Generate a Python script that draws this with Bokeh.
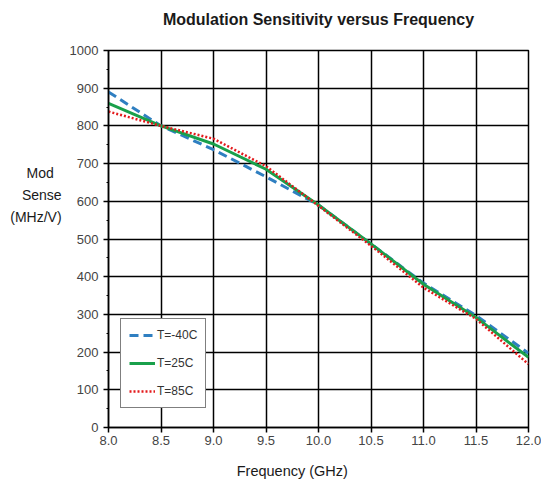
from bokeh.plotting import figure
from bokeh.models import Range1d, Legend, LegendItem, FixedTicker, Title
from bokeh.embed import file_html
from bokeh.resources import INLINE

freq = [8.0, 8.5, 9.0, 9.5, 10.0, 10.5, 11.0, 11.5, 12.0]
t_m40 = [890, 800, 737, 665, 590, 487, 383, 297, 197]
t_25 = [860, 800, 752, 685, 590, 487, 380, 292, 186]
t_85 = [838, 800, 766, 693, 588, 482, 371, 288, 168]
x_ticks = [8.0, 8.5, 9.0, 9.5, 10.0, 10.5, 11.0, 11.5, 12.0]
y_ticks = list(range(0, 1001, 100))
y_minor = list(range(50, 1000, 100))
series_names = ["T=-40C", "T=25C", "T=85C"]
y_label_lines = ["Mod", "Sense", "(MHz/V)"]

FONT = "Liberation Sans"
NB = "\u00a0"

p = figure(width=541, height=489, output_backend="svg", toolbar_location=None,
           x_range=Range1d(8.0, 12.0), y_range=Range1d(0, 1000),
           min_border_left=108, min_border_right=13, min_border_top=50, min_border_bottom=62)

p.title = Title(text="Modulation Sensitivity versus Frequency\n" + NB, align="center",
                text_font=FONT, text_font_size="16px", text_font_style="bold",
                text_line_height=1.05, text_color="#1a1a1a", standoff=10)

r1 = p.line(freq, t_m40, line_color="#2f7fc1", line_width=3, line_dash="9 5")
r2 = p.line(freq, t_25, line_color="#19a04b", line_width=3)
r3 = p.line(freq, t_85, line_color="#e31a1c", line_width=2.5, line_dash="2 2")

p.xaxis.ticker = FixedTicker(ticks=x_ticks)
p.yaxis.ticker = FixedTicker(ticks=y_ticks, minor_ticks=y_minor)
p.xaxis.major_label_overrides = {t: f"{t:.1f}" for t in x_ticks}

for ax in (p.xaxis, p.yaxis):
    ax.axis_line_color = "black"
    ax.axis_line_width = 1.5
    ax.major_tick_line_color = "black"
    ax.major_tick_line_width = 1.5
    ax.major_tick_out = 5
    ax.major_tick_in = 0
    ax.major_label_text_font = FONT
    ax.major_label_text_font_size = "13px"
    ax.major_label_text_color = "#444444"
p.yaxis.minor_tick_line_color = "black"
p.yaxis.minor_tick_out = 2
p.yaxis.minor_tick_in = 0
p.xaxis.minor_tick_line_color = None
p.xaxis.axis_label = "Frequency (GHz)" + NB * 13
p.xaxis.axis_label_text_font = FONT
p.xaxis.axis_label_text_font_size = "14.5px"
p.xaxis.axis_label_text_font_style = "normal"
p.xaxis.axis_label_text_color = "#1a1a1a"
p.xaxis.axis_label_standoff = 15
p.xaxis.major_label_standoff = 3
p.yaxis.major_label_standoff = 5

padded = [y_label_lines[0] + NB * 2, y_label_lines[1], y_label_lines[2]]
p.yaxis.axis_label = "\n".join(padded + [NB] * 4)
p.yaxis.axis_label_orientation = "horizontal"
p.yaxis.axis_label_text_align = "center"
p.yaxis.axis_label_text_font = FONT
p.yaxis.axis_label_text_font_size = "14px"
p.yaxis.axis_label_text_line_height = 1.375
p.yaxis.axis_label_text_font_style = "normal"
p.yaxis.axis_label_text_color = "#1a1a1a"
p.yaxis.axis_label_standoff = 5

p.grid.grid_line_color = "black"
p.grid.grid_line_width = 1.5
p.grid.grid_line_alpha = 1.0
p.outline_line_color = "black"
p.outline_line_width = 1.5

legend = Legend(items=[LegendItem(label=series_names[0], renderers=[r1]),
                       LegendItem(label=series_names[1], renderers=[r2]),
                       LegendItem(label=series_names[2], renderers=[r3])],
                location=(12, 19))
legend.border_line_color = "black"
legend.border_line_width = 1.5
legend.background_fill_color = "white"
legend.background_fill_alpha = 1.0
legend.label_text_font = FONT
legend.label_text_font_size = "12px"
legend.label_text_color = "#333333"
legend.glyph_width = 26
legend.glyph_height = 16
legend.label_standoff = 2
legend.spacing = 12
legend.padding = 8
legend.margin = 0
p.add_layout(legend)

open("out.html", "w").write(file_html(p, INLINE))
